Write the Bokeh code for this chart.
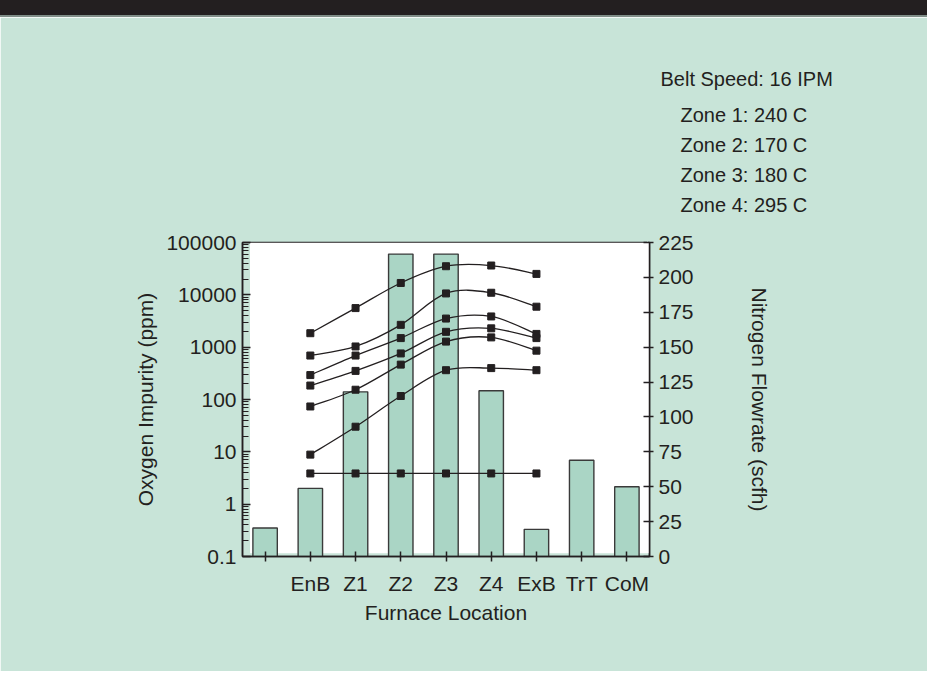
from bokeh.plotting import figure
from bokeh.models import (Range1d, LinearAxis, LinearScale, FixedTicker,
                          PrintfTickFormatter, CustomJSTickFormatter,
                          BoxAnnotation, Title, Div)
from bokeh.layouts import column
from bokeh.embed import file_html
from bokeh.resources import INLINE

# ---------------- data ----------------
locations = ["", "EnB", "Z1", "Z2", "Z3", "Z4", "ExB", "TrT", "CoM"]
oxygen_ppm = [0.35, 2.0, 140, 60000, 60000, 147, 0.33, 6.9, 2.15]

flow_locations = ["EnB", "Z1", "Z2", "Z3", "Z4", "ExB"]
flow_1 = [160.0, 178.0, 196.0, 208.0, 208.5, 202.5]
flow_2 = [144.0, 150.5, 166.0, 188.5, 189.0, 179.0]
flow_3 = [130.0, 144.0, 156.5, 170.5, 172.0, 159.5]
flow_4 = [122.5, 133.0, 145.5, 161.0, 163.5, 156.5]
flow_5 = [107.5, 119.5, 137.5, 154.0, 157.0, 147.5]
flow_6 = [73.0, 93.0, 115.0, 133.5, 135.0, 133.5]
flow_7 = [59.5, 59.5, 59.5, 59.5, 59.5, 59.5]
flow_series = [flow_1, flow_2, flow_3, flow_4, flow_5, flow_6, flow_7]

left_ticks = [0.1, 1, 10, 100, 1000, 10000, 100000]
right_ticks = [0, 25, 50, 75, 100, 125, 150, 175, 200, 225]

notes = ["Belt Speed: 16 IPM", "Zone 1: 240 C", "Zone 2: 170 C",
         "Zone 3: 180 C", "Zone 4: 295 C"]

# ---------------- style ----------------
BG = "#c8e4d8"
BAR = "#aad5c5"
INK = "#231f20"
FONT = "'Liberation Sans', Arial, sans-serif"
FS = "21px"
FS_NOTE = "20px"

p = figure(width=927, height=654,
           x_range=Range1d(-0.5, 8.5), y_range=Range1d(0.1, 100000),
           y_axis_type="log", output_backend="svg", toolbar_location=None,
           min_border_left=242, min_border_right=278,
           min_border_top=225, min_border_bottom=115)
p.extra_y_ranges = {"right": Range1d(0, 225)}
p.extra_y_scales = {"right": LinearScale()}
p.background_fill_color = BG
p.border_fill_color = BG
p.outline_line_color = INK
p.outline_line_width = 1.5
p.grid.visible = False

# white plotting area (with the thin mint strips at left/bottom)
p.add_layout(BoxAnnotation(left=-0.334, bottom=0.115, fill_color="white",
                           fill_alpha=1.0, line_color=None, level="underlay"))

# bars
xs = list(range(len(locations)))
p.vbar(x=xs, top=oxygen_ppm, bottom=0.1, width=0.54, fill_color=BAR,
       line_color="#3a3a3a", line_width=1.4)

# smoothed flow lines + square markers
fx = [locations.index(c) for c in flow_locations]


def bezier_parts(xv, yv):
    n = len(xv)
    d = dict(x0=[], y0=[], x1=[], y1=[], cx0=[], cy0=[], cx1=[], cy1=[])
    for i in range(n - 1):
        xp, yp = (xv[i - 1], yv[i - 1]) if i > 0 else (xv[i], yv[i])
        xn, yn = (xv[i + 2], yv[i + 2]) if i + 2 < n else (xv[i + 1], yv[i + 1])
        d["x0"].append(xv[i]); d["y0"].append(yv[i])
        d["x1"].append(xv[i + 1]); d["y1"].append(yv[i + 1])
        d["cx0"].append(xv[i] + (xv[i + 1] - xp) / 6.0)
        d["cy0"].append(yv[i] + (yv[i + 1] - yp) / 6.0)
        d["cx1"].append(xv[i + 1] - (xn - xv[i]) / 6.0)
        d["cy1"].append(yv[i + 1] - (yn - yv[i]) / 6.0)
    return d


for s in flow_series:
    b = bezier_parts(fx, s)
    p.bezier(x0=b["x0"], y0=b["y0"], x1=b["x1"], y1=b["y1"],
             cx0=b["cx0"], cy0=b["cy0"], cx1=b["cx1"], cy1=b["cy1"],
             line_color=INK, line_width=1.3, y_range_name="right")
    p.scatter(x=fx, y=s, marker="square", size=7, fill_color=INK,
              line_color=INK, y_range_name="right")

# ---------------- axes ----------------
xa = p.xaxis[0]
xa.ticker = FixedTicker(ticks=xs)
xa.major_label_overrides = {i: lab for i, lab in enumerate(locations)}
xa.axis_label = "Furnace Location"
xa.major_tick_in = 5
xa.major_tick_out = 5
xa.minor_tick_in = 0
xa.minor_tick_out = 0
xa.major_label_standoff = 10
xa.axis_label_standoff = 3

minor = []
for dec in left_ticks[:-1]:
    for k in range(2, 10):
        minor.append(dec * k)
ya = p.yaxis[0]
ya.ticker = FixedTicker(ticks=left_ticks, minor_ticks=minor)
ya.formatter = PrintfTickFormatter(format="%g")
ya.axis_label = "Oxygen Impurity (ppm)"
ya.major_tick_in = 8
ya.major_tick_out = 0
ya.minor_tick_in = 6
ya.minor_tick_out = 0
ya.major_label_standoff = 6
ya.axis_label_standoff = 6

ra = LinearAxis(y_range_name="right", ticker=FixedTicker(ticks=right_ticks),
                axis_label="Nitrogen Flowrate (scfh)")
ra.major_tick_in = 6
ra.major_tick_out = 4
ra.minor_tick_in = 0
ra.minor_tick_out = 0
ra.major_label_standoff = 5
ra.axis_label_standoff = 51
p.add_layout(ra, "right")

for ax in [xa, ya, ra]:
    ax.axis_line_color = INK
    ax.axis_line_width = 1.5
    ax.major_tick_line_color = INK
    ax.major_tick_line_width = 1.5
    ax.minor_tick_line_color = INK
    ax.minor_tick_line_width = 1.2
    ax.major_label_text_font = FONT
    ax.major_label_text_font_size = FS
    ax.major_label_text_color = INK
    ax.axis_label_text_font = FONT
    ax.axis_label_text_font_size = FS
    ax.axis_label_text_font_style = "normal"
    ax.axis_label_text_color = INK

# ---------------- notes (top right), stacked above the frame ----------------
# spacer panel directly above the frame: one background-coloured tick, no label
spacer = LinearAxis(ticker=FixedTicker(ticks=[8.45]),
                    formatter=CustomJSTickFormatter(code="return ''"),
                    axis_line_color=None,
                    major_tick_line_color=BG, minor_tick_line_color=None,
                    major_tick_in=0, major_tick_out=24, minor_tick_in=0,
                    minor_tick_out=0, major_label_standoff=0,
                    major_label_text_font_size="1px")
p.add_layout(spacer, "above")

# listed from the frame outwards: Zone 4, Zone 3, Zone 2, Zone 1, Belt Speed
note_offsets = [418, 438, 438, 438, 438]
note_standoffs = [19.4, 5.0, 6.0, 5.8, 5.8]
for t, off, so in reversed(list(zip(notes, note_offsets, note_standoffs))):
    p.add_layout(Title(text=t, align="left", offset=off, standoff=so,
                       text_font=FONT, text_font_size=FS_NOTE,
                       text_font_style="normal", text_color=INK,
                       vertical_align="bottom"), "above")

bar = Div(text="", width=927, height=17, margin=0,
          styles={"background-color": INK,
                  "border-bottom": "2px solid #7f8d87",
                  "box-sizing": "border-box"})
layout = column(bar, p, spacing=0)

open("out.html", "w").write(file_html(layout, INLINE))
